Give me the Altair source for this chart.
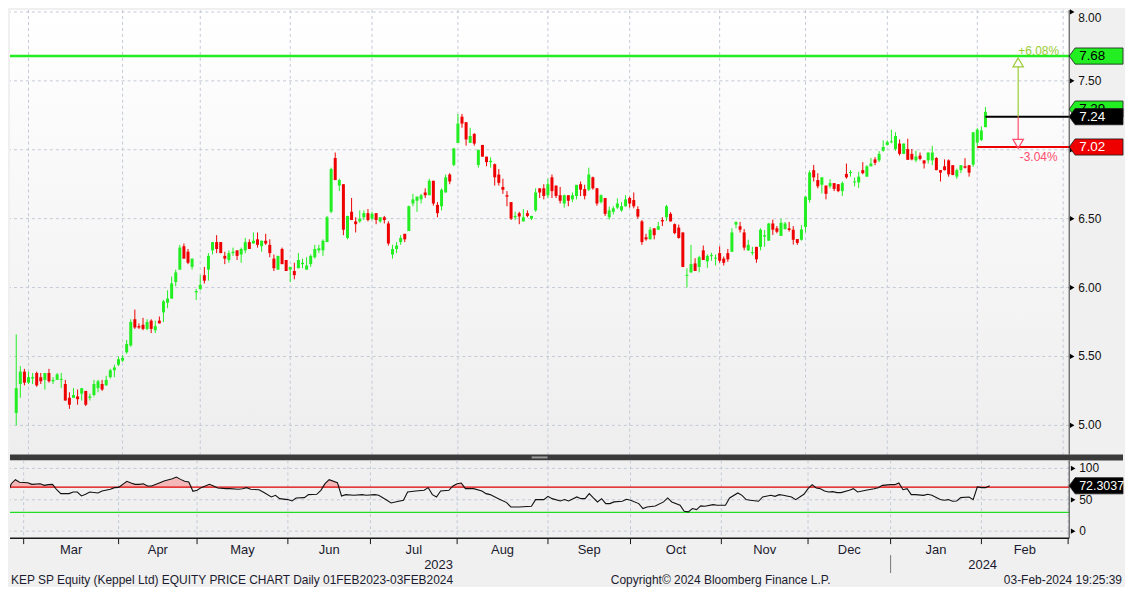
import altair as alt
import pandas as pd

# ---------------- data ----------------
opens = [5.09,5.30,5.39,5.31,5.34,5.38,5.35,5.33,5.38,5.32,5.33,5.33,5.30,5.20,5.20,5.21,5.23,5.25,5.20,5.22,
         5.27,5.30,5.29,5.35,5.40,5.44,5.47,5.53,5.58,5.77,5.72,5.73,5.70,5.76,5.69,5.76,5.82,5.89,5.92,6.04,
         6.13,6.30,6.26,6.15,5.965,5.99,6.09,6.13,6.27,6.33,6.33,6.23,6.20,6.25,6.27,6.24,6.27,6.33,6.32,6.35,
         6.30,6.34,6.31,6.21,6.13,6.28,6.20,6.13,6.12,6.14,6.17,6.13,6.17,6.22,6.27,6.27,6.33,6.55,6.94,6.74,
         6.75,6.36,6.55,6.48,6.48,6.51,6.54,6.50,6.54,6.48,6.51,6.465,6.24,6.28,6.33,6.39,6.41,6.61,6.63,6.64,
         6.69,6.67,6.775,6.60,6.59,6.69,6.82,6.89,7.05,7.24,7.20,7.05,7.115,6.89,7.035,6.95,6.91,6.895,6.82,6.73,
         6.67,6.62,6.51,6.54,6.48,6.54,6.50,6.56,6.72,6.72,6.67,6.80,6.74,6.67,6.61,6.67,6.64,6.665,6.75,6.715,
         6.71,6.80,6.72,6.62,6.65,6.51,6.55,6.58,6.56,6.59,6.65,6.635,6.57,6.48,6.365,6.35,6.43,6.42,6.49,6.51,
         6.535,6.46,6.435,6.40,6.085,6.11,6.175,6.15,6.27,6.19,6.228,6.21,6.25,6.21,6.25,6.26,6.457,6.445,6.40,6.27,
         6.25,6.295,6.295,6.37,6.34,6.465,6.43,6.375,6.425,6.43,6.42,6.352,6.347,6.44,6.636,6.852,6.78,6.746,6.74,6.735,
         6.758,6.75,6.70,6.825,6.832,6.763,6.763,6.852,6.805,6.88,6.93,6.923,6.993,7.035,7.054,7.005,7.045,6.97,7.005,6.97,
         6.923,6.958,6.923,6.923,6.923,6.94,6.852,6.88,6.923,6.888,6.805,6.852,6.88,6.888,6.892,7.052,7.07,7.164]
highs = [5.66,5.43,5.41,5.39,5.38,5.39,5.38,5.38,5.41,5.35,5.38,5.38,5.33,5.24,5.27,5.26,5.27,5.25,5.23,5.33,
         5.33,5.33,5.36,5.41,5.44,5.50,5.51,5.62,5.77,5.84,5.74,5.78,5.77,5.77,5.76,5.79,5.91,5.98,6.08,6.13,
         6.31,6.32,6.28,6.21,5.99,6.09,6.15,6.25,6.33,6.38,6.33,6.26,6.27,6.29,6.27,6.29,6.36,6.35,6.40,6.40,
         6.34,6.39,6.35,6.24,6.23,6.29,6.20,6.15,6.18,6.25,6.21,6.22,6.24,6.31,6.31,6.35,6.52,6.87,6.98,6.79,
         6.75,6.52,6.65,6.51,6.56,6.56,6.57,6.55,6.54,6.51,6.52,6.48,6.31,6.33,6.38,6.39,6.595,6.68,6.66,6.68,
         6.72,6.79,6.775,6.62,6.72,6.82,6.83,7.01,7.26,7.26,7.20,7.16,7.12,7.00,7.035,6.95,6.945,6.90,6.86,6.79,
         6.70,6.62,6.55,6.55,6.57,6.56,6.52,6.72,6.72,6.75,6.79,6.82,6.74,6.73,6.675,6.67,6.69,6.745,6.77,6.746,
         6.87,6.805,6.723,6.676,6.65,6.587,6.59,6.648,6.62,6.67,6.66,6.69,6.59,6.49,6.39,6.44,6.43,6.476,6.51,6.60,
         6.547,6.465,6.457,6.40,6.14,6.31,6.213,6.23,6.305,6.24,6.253,6.24,6.30,6.225,6.28,6.43,6.48,6.476,6.425,6.347,
         6.296,6.296,6.43,6.418,6.47,6.493,6.446,6.50,6.476,6.476,6.446,6.352,6.453,6.66,6.85,6.89,6.83,6.80,6.74,6.786,
         6.758,6.75,6.77,6.90,6.852,6.798,6.84,6.91,6.888,6.94,6.946,6.99,7.068,7.068,7.146,7.127,7.075,7.045,7.08,7.005,
         6.993,6.98,6.923,6.98,7.028,6.946,6.852,6.93,6.93,6.888,6.864,6.888,6.939,6.888,7.127,7.157,7.17,7.31]
lows = [5.00,5.20,5.29,5.30,5.30,5.28,5.30,5.26,5.31,5.30,5.33,5.27,5.18,5.12,5.20,5.15,5.18,5.14,5.18,5.21,
        5.24,5.25,5.29,5.34,5.35,5.43,5.46,5.52,5.57,5.70,5.70,5.69,5.69,5.67,5.67,5.74,5.75,5.85,5.92,6.01,
        6.13,6.21,6.17,6.13,5.91,5.98,6.03,6.05,6.24,6.25,6.25,6.17,6.18,6.23,6.20,6.18,6.25,6.28,6.32,6.29,
        6.26,6.31,6.22,6.12,6.13,6.17,6.12,6.04,6.06,6.14,6.14,6.13,6.15,6.21,6.25,6.23,6.33,6.54,6.78,6.70,
        6.38,6.35,6.49,6.40,6.47,6.49,6.48,6.49,6.46,6.47,6.465,6.305,6.21,6.25,6.31,6.33,6.41,6.59,6.55,6.61,
        6.65,6.67,6.595,6.51,6.56,6.69,6.75,6.88,7.05,7.16,7.03,7.05,7.03,6.87,6.95,6.88,6.87,6.74,6.74,6.68,
        6.59,6.49,6.49,6.46,6.48,6.51,6.49,6.55,6.65,6.64,6.65,6.65,6.65,6.61,6.58,6.59,6.62,6.64,6.664,6.64,
        6.70,6.71,6.594,6.61,6.52,6.493,6.53,6.57,6.55,6.587,6.58,6.575,6.50,6.31,6.34,6.35,6.35,6.42,6.446,6.483,
        6.48,6.387,6.355,6.148,6.00,6.108,6.12,6.11,6.20,6.143,6.195,6.16,6.18,6.16,6.187,6.258,6.43,6.40,6.27,6.265,
        6.235,6.18,6.27,6.296,6.34,6.382,6.394,6.375,6.42,6.406,6.312,6.31,6.34,6.40,6.617,6.77,6.72,6.683,6.64,6.72,
        6.70,6.692,6.664,6.79,6.805,6.735,6.723,6.822,6.805,6.88,6.888,6.91,6.986,7.03,7.047,6.993,6.958,6.97,6.927,6.923,
        6.91,6.923,6.864,6.90,6.888,6.852,6.77,6.85,6.805,6.815,6.789,6.83,6.864,6.805,6.876,7.017,7.064,7.164]
closes = [5.27,5.39,5.31,5.35,5.35,5.29,5.32,5.38,5.32,5.33,5.37,5.335,5.18,5.15,5.22,5.19,5.27,5.15,5.21,5.30,
          5.32,5.26,5.33,5.40,5.42,5.48,5.49,5.59,5.75,5.71,5.71,5.70,5.75,5.70,5.72,5.74,5.90,5.92,6.03,6.11,
          6.29,6.21,6.18,6.21,5.975,6.02,6.05,6.23,6.33,6.28,6.25,6.21,6.25,6.26,6.23,6.28,6.33,6.28,6.34,6.31,
          6.34,6.32,6.25,6.14,6.23,6.17,6.12,6.15,6.09,6.20,6.18,6.16,6.23,6.28,6.285,6.34,6.51,6.86,6.78,6.78,
          6.42,6.52,6.49,6.46,6.50,6.54,6.49,6.535,6.49,6.51,6.49,6.32,6.28,6.305,6.36,6.35,6.59,6.64,6.66,6.67,
          6.67,6.775,6.61,6.54,6.71,6.80,6.77,7.01,7.19,7.19,7.075,7.10,7.045,7.00,6.95,6.91,6.92,6.80,6.76,6.71,
          6.66,6.50,6.52,6.515,6.51,6.52,6.52,6.69,6.69,6.665,6.75,6.70,6.665,6.63,6.67,6.63,6.67,6.745,6.71,6.665,
          6.82,6.72,6.61,6.67,6.535,6.56,6.575,6.61,6.59,6.64,6.61,6.59,6.515,6.33,6.35,6.42,6.38,6.445,6.48,6.59,
          6.48,6.395,6.36,6.15,6.09,6.17,6.12,6.22,6.20,6.23,6.232,6.213,6.195,6.18,6.205,6.40,6.476,6.42,6.29,6.31,
          6.255,6.205,6.42,6.38,6.465,6.42,6.405,6.47,6.465,6.418,6.347,6.324,6.422,6.66,6.835,6.80,6.735,6.80,6.68,6.758,
          6.716,6.70,6.758,6.80,6.836,6.766,6.805,6.83,6.88,6.90,6.905,6.97,7.02,7.056,7.061,7.10,6.97,7.045,6.927,6.93,
          6.951,6.934,6.90,6.98,6.98,6.852,6.834,6.852,6.822,6.817,6.852,6.888,6.869,6.834,7.127,7.146,7.14,7.275]
days = list(range(len(closes)))

rsi_days = [-2,-1,0,1,2,4,5,7,8,9,10,11,12,14,15,16,17,18,19,21,22,24,25,26,28,29,30,31,32,33,34,36,37,39,40,41,42,43,
            44,45,46,48,49,50,52,53,55,56,57,58,60,61,63,64,65,67,68,69,71,72,74,75,76,77,79,80,81,83,85,86,88,89,
            91,92,93,95,96,98,100,101,102,103,104,106,107,108,109,110,112,114,115,116,118,120,121,123,126,127,129,
            130,131,133,134,135,137,138,139,140,141,142,143,144,145,146,148,149,150,152,153,154,156,158,159,160,162,
            163,164,165,166,167,168,170,171,173,174,176,177,178,179,181,182,184,185,186,187,189,190,192,193,194,195,
            196,197,198,199,200,201,203,204,205,207,209,210,211,213,214,215,216,217,218,219,221,222,223,225,226,227,
            228,229,230,232,233,234,235,236,237]
rsi_vals = [47.6,57.1,75.6,82.0,78.0,77.2,74.6,75.6,73.0,74.1,74.6,66.0,59.8,59.8,62.4,62.4,56.1,58.7,62.4,60.8,64.0,
            66.7,69.3,69.8,79.4,76.7,74.6,74.6,75.6,72.0,72.0,77.2,79.9,83.6,86.2,82.5,79.4,78.3,
            63.5,65.1,69.3,74.6,72.0,68.8,67.7,67.7,66.7,67.7,69.3,66.7,66.1,62.4,54.5,57.1,51.8,50.3,48.1,52.9,
            53.4,58.2,58.7,65.1,75.6,82.0,77.2,56.1,58.2,57.1,58.2,57.1,58.2,57.1,
            49.2,45.0,46.6,49.2,62.4,64.0,65.1,69.3,58.2,54.5,64.0,65.1,72.0,75.6,76.7,67.7,67.7,64.0,59.8,58.2,
            51.8,45.5,38.6,38.6,39.7,50.3,50.3,
            55.5,51.8,48.1,50.3,48.1,54.5,51.8,51.8,59.8,52.9,46.6,51.8,43.9,43.9,46.6,47.6,50.8,49.2,43.9,36.0,
            38.6,40.2,46.6,52.9,46.6,41.3,
            31.7,30.7,36.0,34.4,40.2,39.7,42.3,41.3,41.3,52.9,60.8,57.1,50.3,49.2,47.6,54.5,57.1,55.5,58.2,57.1,
            54.5,50.3,58.7,67.7,74.1,68.8,
            67.7,64.0,62.5,63.0,61.4,61.4,65.1,67.7,62.4,65.1,67.7,69.3,73.0,74.1,74.1,76.7,66.1,67.7,58.2,58.2,
            57.1,58.7,57.1,50.3,49.2,50.3,
            47.6,48.1,53.4,54.5,50.3,70.4,69.3,69.3,72.3037]

month_bounds = [3, 26, 45, 67, 87, 108, 130, 150, 172, 193, 213, 235, 256]
month_names = ["Mar", "Apr", "May", "Jun", "Jul", "Aug", "Sep", "Oct", "Nov", "Dec", "Jan", "Feb"]
month_label_days = [14.5, 35.5, 56, 77, 97.5, 119, 140, 161, 182.5, 203, 224, 245.5]
year_names = ["2023", "2024"]
year_label_days = [103.5, 235.3]
year_split_day = [213]

price_label_ticks = [5.0, 5.5, 6.0, 6.5, 7.5]
price_label_texts = ["5.00", "5.50", "6.00", "6.50", "7.50"]
price_top_tick = [8.0]
price_grid = [5.0, 5.5, 6.0, 6.5, 7.0, 7.5, 8.0]
rsi_ticks = [0, 50, 100]
rsi_tick_labels = ["0", "50", "100"]

target_level = 7.68
last_level = 7.24
stop_level = 7.02
close_level = 7.295
last_start_day = 237
stop_start_day = 235
arrow_day = 245
arrow_up_end, arrow_up_head = 7.605, 7.634
arrow_dn_end, arrow_dn_head = 7.07, 7.043
pct_day = 250
pct_up_text, pct_up_price = "+6.08%", 7.72
pct_dn_text, pct_dn_price = "-3.04%", 6.945
rsi_last = 72.3037
rsi_hi, rsi_lo = 70, 30

footer_left = "KEP SP Equity (Keppel Ltd) EQUITY PRICE CHART  Daily 01FEB2023-03FEB2024"
footer_mid = "Copyright\u00a9 2024 Bloomberg Finance L.P."
footer_right = "03-Feb-2024 19:25:39"

# ---------------- styling ----------------
W, H1, H2, BOX = 1063, 446, 78, 54
FONT = "Liberation Sans"
GREEN = "#22ee22"
RED = "#ee0000"
UPC = "#99cc33"
DNC = "#ff4d6d"
GRID = "#c3c9d6"
xs = alt.Scale(domain=[-0.31, 256.26], nice=False, zero=False)
ys = alt.Scale(domain=[4.789, 8.014], nice=False, zero=False)
rys = alt.Scale(domain=[-11.1, 112.7], nice=False, zero=False)
BOX_PATH = "M-1,0L-0.78,-0.3L1,-0.3L1,0.3L-0.78,0.3Z"


def X(field):
    return alt.X(field, type="quantitative", scale=xs, axis=None)


def Y(field):
    return alt.Y(field, type="quantitative", scale=ys, axis=None)


def RY(field):
    return alt.Y(field, type="quantitative", scale=rys, axis=None)


one = pd.DataFrame({"k": [0]})

# ---------------- price panel ----------------
bg = alt.Chart(one).mark_rect(
    color=alt.LinearGradient(gradient="linear", x1=0, x2=0, y1=0, y2=1,
                             stops=[alt.GradientStop(color="#ffffff", offset=0),
                                    alt.GradientStop(color="#eeeeee", offset=1)])
).encode(x=alt.value(0), x2=alt.value(W), y=alt.value(0), y2=alt.value(H1))

vgrid = alt.Chart(pd.DataFrame({"d": month_bounds})).mark_rule(
    color=GRID, strokeDash=[3, 3], strokeWidth=1).encode(x=X("d"))
hgrid = alt.Chart(pd.DataFrame({"p": price_grid})).mark_rule(
    color=GRID, strokeDash=[3, 3], strokeWidth=1).encode(y=Y("p"))

green_line = alt.Chart(pd.DataFrame({"p": [target_level]})).mark_rule(
    color=GREEN, strokeWidth=2.5).encode(y=Y("p"))

cdf = pd.DataFrame({"day": days, "open": opens, "high": highs, "low": lows, "close": closes})
cbase = alt.Chart(cdf).transform_calculate(
    dir="datum.close >= datum.open ? 'up' : 'down'",
    btm="min(datum.open, datum.close)",
    top="max(max(datum.open, datum.close), min(datum.open, datum.close) + 0.007)",
)
ccol = alt.Color("dir:N", scale=alt.Scale(domain=["up", "down"], range=[GREEN, RED]), legend=None)
wicks = cbase.mark_rule(strokeWidth=1).encode(x=X("day"), y=Y("low"), y2="high:Q", color=ccol)
bodies = cbase.mark_bar(size=3).encode(x=X("day"), y=Y("btm"), y2="top:Q", color=ccol)

last_line = alt.Chart(pd.DataFrame({"d": [last_start_day], "p": [last_level]})).mark_rule(
    color="#000000", strokeWidth=2).encode(x=X("d"), x2=alt.value(W), y=Y("p"))
stop_line = alt.Chart(pd.DataFrame({"d": [stop_start_day], "p": [stop_level]})).mark_rule(
    color=RED, strokeWidth=2).encode(x=X("d"), x2=alt.value(W), y=Y("p"))

arrow_up = alt.Chart(pd.DataFrame({"d": [arrow_day], "a": [last_level], "b": [arrow_up_end]})).mark_rule(
    strokeWidth=1.2, color=UPC).encode(x=X("d"), y=Y("a"), y2="b:Q")
arrow_dn = alt.Chart(pd.DataFrame({"d": [arrow_day], "a": [last_level], "b": [arrow_dn_end]})).mark_rule(
    strokeWidth=1.2, color=DNC).encode(x=X("d"), y=Y("a"), y2="b:Q")
head_up = alt.Chart(pd.DataFrame({"d": [arrow_day], "p": [arrow_up_head]})).mark_point(
    shape="triangle-up", filled=False, size=110, strokeWidth=1.2, color=UPC, opacity=1
).encode(x=X("d"), y=Y("p"))
head_dn = alt.Chart(pd.DataFrame({"d": [arrow_day], "p": [arrow_dn_head]})).mark_point(
    shape="triangle-down", filled=False, size=110, strokeWidth=1.2, color=DNC, opacity=1
).encode(x=X("d"), y=Y("p"))
pct_up = alt.Chart(pd.DataFrame({"d": [pct_day], "p": [pct_up_price], "t": [pct_up_text]})).mark_text(
    font=FONT, fontSize=12, baseline="middle", align="center", color=UPC
).encode(x=X("d"), y=Y("p"), text="t:N")
pct_dn = alt.Chart(pd.DataFrame({"d": [pct_day], "p": [pct_dn_price], "t": [pct_dn_text]})).mark_text(
    font=FONT, fontSize=12, baseline="middle", align="center", color=DNC
).encode(x=X("d"), y=Y("p"), text="t:N")

plabels = alt.Chart(pd.DataFrame({"p": price_label_ticks, "t": price_label_texts})).mark_text(
    font=FONT, fontSize=12, align="left", baseline="middle", color="#111111"
).encode(x=alt.value(W + 9), y=Y("p"), text="t:N")
ptop_label = alt.Chart(pd.DataFrame({"p": price_top_tick, "t": ["8.00"]})).mark_text(
    font=FONT, fontSize=12, align="left", baseline="middle", color="#111111", dy=6
).encode(x=alt.value(W + 9), y=Y("p"), text="t:N")
ptris = alt.Chart(pd.DataFrame({"p": price_grid})).mark_point(
    shape="triangle-right", filled=True, size=28, color="#000000", opacity=1
).encode(x=alt.value(W + 3), y=Y("p"))
right_edge = alt.Chart(one).mark_rule(color="#3a3a3a", strokeWidth=1).encode(x=alt.value(W))


def box(level, fill, label, tcolor, yenc, size=13.5):
    d = pd.DataFrame({"p": [level], "t": [label]})
    shape = alt.Chart(d).mark_point(shape=BOX_PATH, size=BOX * BOX, filled=True, fill=fill,
                                    stroke="#1a1a1a", strokeWidth=0.8, opacity=1
                                    ).encode(x=alt.value(W + BOX / 2), y=yenc)
    txt = alt.Chart(d).mark_text(font=FONT, fontSize=size, align="left", baseline="middle",
                                 color=tcolor).encode(x=alt.value(W + 10), y=yenc, text="t:N")
    return shape + txt


boxes = (box(target_level, GREEN, "7.68", "#000000", Y("p"))
         + box(close_level, GREEN, "7.29", "#000000", Y("p"))
         + box(last_level, "#000000", "7.24", "#ffffff", Y("p"))
         + box(stop_level, RED, "7.02", "#ffffff", Y("p")))

sep = alt.Chart(one).mark_rect(color="#3a3a3a").encode(
    x=alt.value(0), x2=alt.value(W + BOX), y=alt.value(H1), y2=alt.value(H1 + 6))
grip = alt.Chart(one).mark_rect(color="#9a9a9a").encode(
    x=alt.value(W / 2 - 8), x2=alt.value(W / 2 + 8), y=alt.value(H1 + 2), y2=alt.value(H1 + 4))

price = alt.layer(bg, vgrid, hgrid, green_line, wicks, bodies, last_line, stop_line,
                  arrow_up, arrow_dn, head_up, head_dn, pct_up, pct_dn, right_edge,
                  plabels, ptop_label, ptris, boxes, sep, grip).properties(width=W, height=H1)

# ---------------- RSI panel ----------------
rdf = pd.DataFrame({"day": rsi_days, "rsi": rsi_vals})
rvgrid = alt.Chart(pd.DataFrame({"d": month_bounds})).mark_rule(
    color=GRID, strokeDash=[3, 3], strokeWidth=1).encode(x=X("d"))
rhgrid = alt.Chart(pd.DataFrame({"r": rsi_ticks})).mark_rule(
    color=GRID, strokeDash=[3, 3], strokeWidth=1).encode(y=RY("r"))
rarea = alt.Chart(rdf).transform_calculate(top=f"max(datum.rsi, {rsi_hi})", base=f"{rsi_hi}").mark_area(
    color="#f4b8b8", opacity=1, clip=True).encode(x=X("day"), y=RY("top"), y2="base:Q")
hi_line = alt.Chart(pd.DataFrame({"r": [rsi_hi]})).mark_rule(color="#e00000", strokeWidth=1.3).encode(y=RY("r"))
lo_line = alt.Chart(pd.DataFrame({"r": [rsi_lo]})).mark_rule(color="#22dd22", strokeWidth=1.3).encode(y=RY("r"))
rline = alt.Chart(rdf).mark_line(color="#111111", strokeWidth=1.1, clip=True).encode(x=X("day"), y=RY("rsi"))

bottom_axis = alt.Chart(one).mark_rule(color="#1a1a1a", strokeWidth=1.5).encode(y=alt.value(H2))
rticks = alt.Chart(pd.DataFrame({"d": month_bounds})).mark_rule(color="#1a1a1a", strokeWidth=1).encode(
    x=X("d"), y=alt.value(H2), y2=alt.value(H2 + 6))
r_right = alt.Chart(one).mark_rule(color="#3a3a3a", strokeWidth=1).encode(x=alt.value(W))
rlabels = alt.Chart(pd.DataFrame({"r": rsi_ticks, "t": rsi_tick_labels})).mark_text(
    font=FONT, fontSize=12, align="left", baseline="middle", color="#111111"
).encode(x=alt.value(W + 10), y=RY("r"), text="t:N")
rtris = alt.Chart(pd.DataFrame({"r": rsi_ticks})).mark_point(
    shape="triangle-right", filled=True, size=28, color="#000000", opacity=1
).encode(x=alt.value(W + 4), y=RY("r"))
rbox = box(rsi_last, "#000000", f"{rsi_last}", "#ffffff", RY("p"), size=12.5)

mlabels = alt.Chart(pd.DataFrame({"d": month_label_days, "t": month_names})).mark_text(
    font=FONT, fontSize=13, baseline="middle", align="center", color="#1b1b2f"
).encode(x=X("d"), y=alt.value(H2 + 12), text="t:N")
ylabels = alt.Chart(pd.DataFrame({"d": year_label_days, "t": year_names})).mark_text(
    font=FONT, fontSize=13, baseline="middle", align="center", color="#1b1b2f"
).encode(x=X("d"), y=alt.value(H2 + 27), text="t:N")
ysplit = alt.Chart(pd.DataFrame({"d": year_split_day})).mark_rule(color="#777777", strokeWidth=1).encode(
    x=X("d"), y=alt.value(H2 + 17), y2=alt.value(H2 + 35))

foot_l = alt.Chart(one).mark_text(font=FONT, fontSize=12, align="left", baseline="middle", color="#1b1b2f",
                                  text=footer_left).encode(x=alt.value(1), y=alt.value(H2 + 42))
foot_m = alt.Chart(one).mark_text(font=FONT, fontSize=12, align="left", baseline="middle", color="#1b1b2f",
                                  text=footer_mid).encode(x=alt.value(603), y=alt.value(H2 + 42))
foot_r = alt.Chart(one).mark_text(font=FONT, fontSize=12, align="right", baseline="middle", color="#1b1b2f",
                                  text=footer_right).encode(x=alt.value(W + BOX - 1), y=alt.value(H2 + 42))

rsi = alt.layer(rvgrid, rhgrid, rarea, hi_line, lo_line, rline, bottom_axis, rticks, r_right,
                rlabels, rtris, rbox, mlabels, ylabels, ysplit, foot_l, foot_m, foot_r
                ).properties(width=W, height=H2)

chart = alt.vconcat(price, rsi, spacing=6, bounds="flush").properties(
    padding=0, background="#f0f0f0"
).configure_view(strokeWidth=0, fill="#f0f0f0")

chart.save("out.html", embed_options={"renderer": "svg", "actions": False})
